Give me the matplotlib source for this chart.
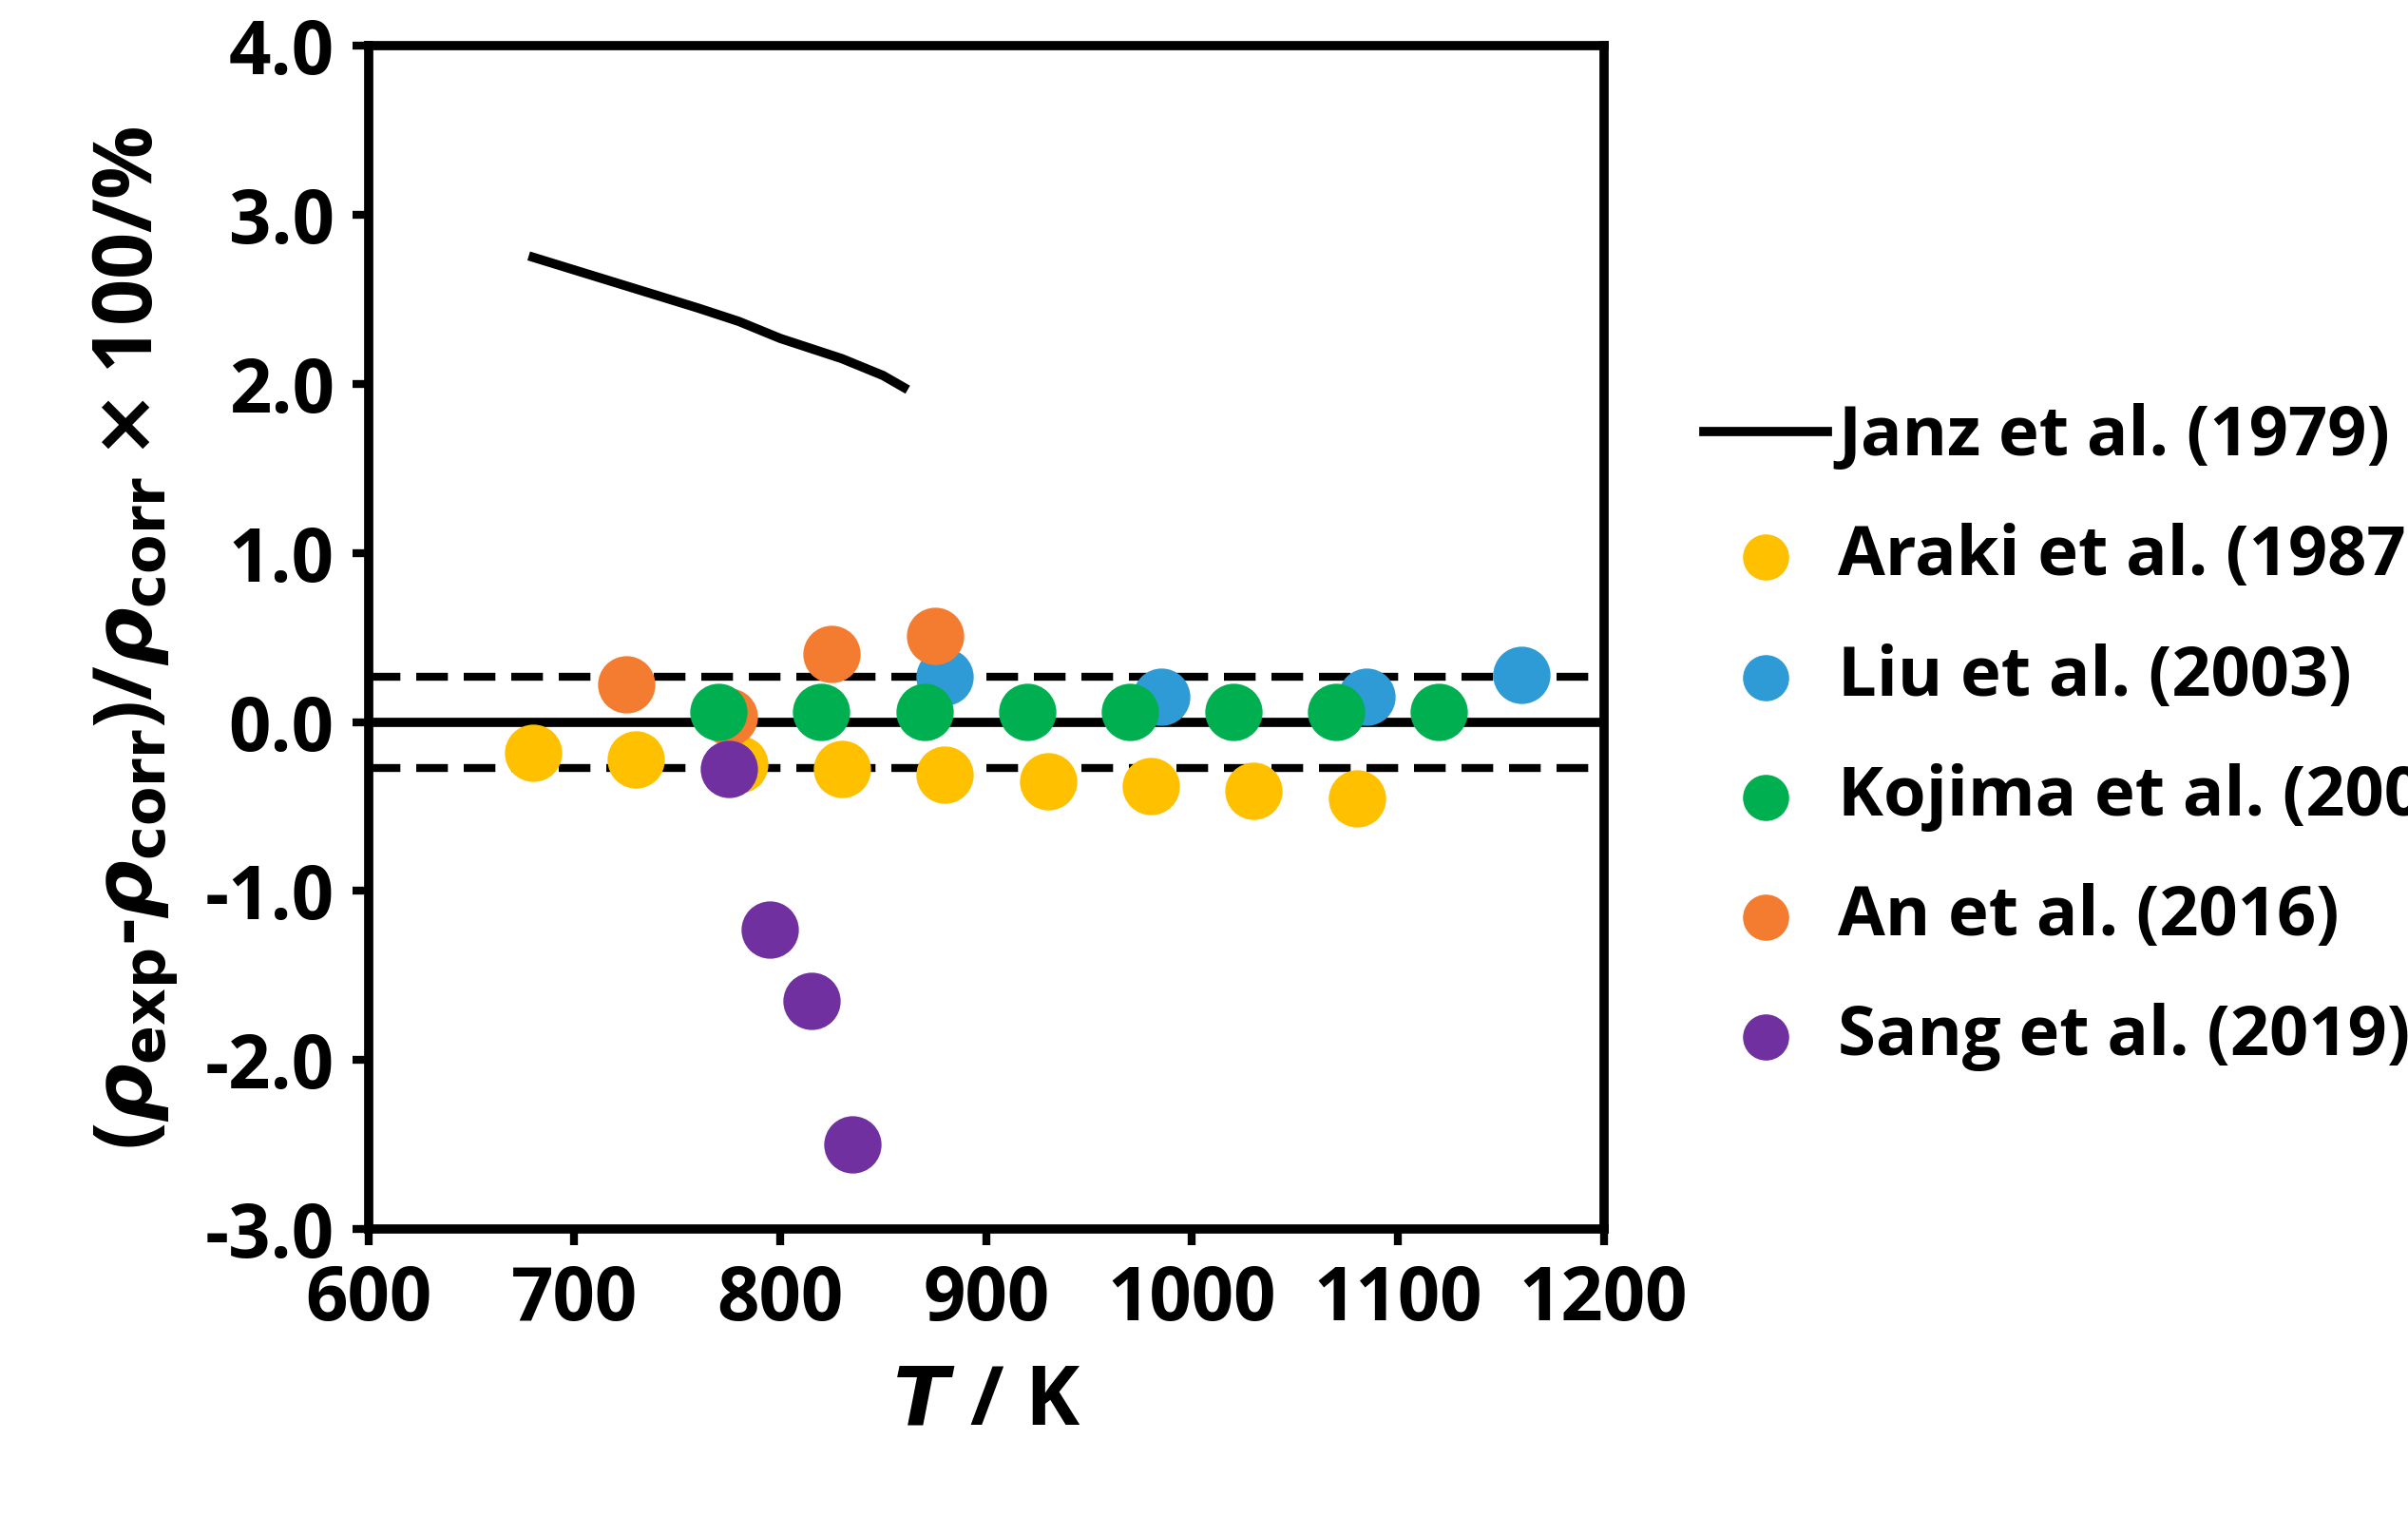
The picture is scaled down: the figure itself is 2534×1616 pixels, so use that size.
import matplotlib
matplotlib.use("Agg")
import matplotlib.pyplot as plt

plt.rcParams['font.family'] = ['Open Sans', 'DejaVu Sans']
plt.rcParams['font.weight'] = 'bold'
plt.rcParams['mathtext.fontset'] = 'dejavusans'

janz_T = [680, 720, 760, 780, 800, 830, 850, 860]
janz_d = [2.75, 2.60, 2.45, 2.37, 2.27, 2.15, 2.05, 1.98]
araki_T = [680, 730, 780, 830, 880, 930, 980, 1030, 1080]
araki_d = [-0.18, -0.22, -0.25, -0.28, -0.31, -0.35, -0.38, -0.41, -0.45]
liu_T = [880, 985, 1085, 1160]
liu_d = [0.27, 0.15, 0.15, 0.28]
koj_T = [770, 820, 870, 920, 970, 1020, 1070, 1120]
koj_d = [0.06, 0.06, 0.06, 0.06, 0.06, 0.06, 0.06, 0.06]
an_T = [725, 775, 825, 875]
an_d = [0.22, 0.03, 0.40, 0.51]
sang_T = [775, 795, 815, 835]
sang_d = [-0.28, -1.23, -1.65, -2.50]
band = 0.27

fig = plt.figure(figsize=(25.34, 16.16), dpi=100)
ax = fig.add_axes([0.153, 0.2, 0.513, 0.77])
ax.set_xlim(600, 1200)
ax.set_ylim(-3, 4)
ax.plot([600, 1200], [0, 0], color='black', lw=7, zorder=1)
ax.plot([600, 1200], [band, band], color='black', lw=6, ls=(0, (4, 2)), zorder=1)
ax.plot([600, 1200], [-band, -band], color='black', lw=6, ls=(0, (4, 2)), zorder=1)
ax.plot(janz_T, janz_d, color='black', lw=7, label='Janz et al. (1979)')
s = 1800
ax.scatter(araki_T, araki_d, s=s, color='#FFC000', label='Araki et al. (1987)', zorder=3)
ax.scatter(liu_T, liu_d, s=s, color='#2E9BD6', label='Liu et al. (2003)', zorder=3)
ax.scatter(koj_T, koj_d, s=s, color='#00B050', label='Kojima et al. (2008)', zorder=4)
ax.scatter(an_T, an_d, s=s, color='#F47C30', label='An et al. (2016)', zorder=3)
ax.scatter(sang_T, sang_d, s=s, color='#7030A0', label='Sang et al. (2019)', zorder=3)

ax.set_xticks(range(600, 1201, 100))
ax.set_yticks([-3, -2, -1, 0, 1, 2, 3, 4])
ax.set_yticklabels([f'{v:.1f}' for v in [-3, -2, -1, 0, 1, 2, 3, 4]])
ax.tick_params(labelsize=56, width=6, length=12, direction='out', pad=14)
for sp in ax.spines.values():
    sp.set_linewidth(7)
ax.set_xlabel(r'$\mathit{T}$ / K', fontsize=62, fontweight='bold', labelpad=18)
ax.set_ylabel(r'($\rho_{\rm exp}$-$\rho_{\rm corr}$)/$\rho_{\rm corr}\times$100/%',
              fontsize=62, fontweight='bold', labelpad=18)
fig.legend(loc='center left', bbox_to_anchor=(0.682, 0.52), frameon=False,
           fontsize=52, handlelength=1.8, handletextpad=0.15, labelspacing=0.75,
           markerscale=0.8)
fig.savefig('out.png', dpi=100)
